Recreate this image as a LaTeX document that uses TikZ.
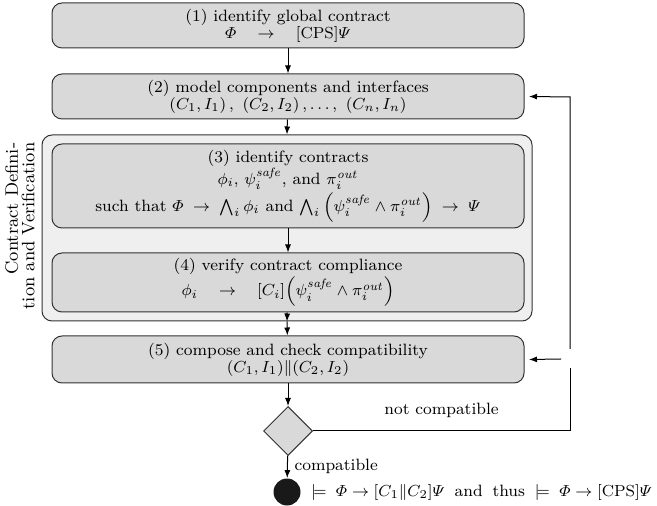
\documentclass[tikz,border=0pt]{standalone}
\usepackage{amsmath,amssymb}
\usetikzlibrary{arrows.meta,shapes.geometric}
\DeclareMathSizes{8.2}{8.2}{6.4}{5}
\definecolor{boxfill}{HTML}{D9D9D9}
\definecolor{grpfill}{HTML}{EFEFEF}
\definecolor{edge}{HTML}{333333}
\begin{document}
\begin{tikzpicture}[x=0.5pt,y=-0.5pt,
  font=\fontsize{8.2}{8.4}\selectfont,
  stepbox/.style={draw=edge, fill=boxfill, rounded corners=5pt, line width=0.5pt,
    minimum width=236pt, align=center, inner sep=0pt},
  grpbox/.style={draw=edge, fill=grpfill, rounded corners=5pt, line width=0.5pt,
    minimum width=245pt, minimum height=93pt, inner sep=0pt},
  conn/.style={draw=black, line width=0.5pt, -{Latex[length=4pt,width=3pt]}},
  plain/.style={draw=black, line width=0.5pt}]
\useasboundingbox (0,0) rectangle (657,506);

\node[grpbox] (g) at (287,228) {};
\node[stepbox, minimum height=22.5pt] (b1) at (288,25.5)
  {(1) identify global contract\\ $\varPhi\quad\rightarrow\quad[\mathrm{CPS}]\varPsi$};
\node[stepbox, minimum height=22.5pt] (b2) at (288,96.5)
  {(2) model components and interfaces\\ $(C_1,I_1)\,,\ (C_2,I_2)\,,\ldots,\ (C_n,I_n)$};
\node[stepbox, minimum height=42pt] (b3) at (288,186)
  {(3) identify contracts\\
   $\phi_i,\,\psi_i^{\mathit{safe}}$, and $\pi_i^{\mathit{out}}$\\[0.5pt]
   such that $\varPhi\;\rightarrow\;\bigwedge_i\phi_i$ and $\bigwedge_i\,\Bigl(\psi_i^{\mathit{safe}}\wedge\pi_i^{\mathit{out}}\Bigr)\;\rightarrow\;\varPsi$};
\node[stepbox, minimum height=29.5pt] (b4) at (288,282.5)
  {(4) verify contract compliance\\
   $\phi_i\quad\rightarrow\quad[C_i]\Bigl(\psi_i^{\mathit{safe}}\wedge\pi_i^{\mathit{out}}\Bigr)$};
\node[stepbox, minimum height=23.5pt] (b5) at (288,359.5)
  {(5) compose and check compatibility\\ $(C_1,I_1)\|(C_2,I_2)$};
\node[rotate=90, align=right, font=\fontsize{9}{8.2}\selectfont] (lbl) at (20,226)
  {Contract Defini-\\tion and Verification};

\node[diamond, aspect=1, draw=edge, fill=boxfill, line width=0.5pt, minimum size=24.5pt, inner sep=0pt] (d) at (288,431) {};
\node[circle, fill=black!90, minimum size=13.5pt, inner sep=0pt] (end) at (287,492) {};
\node[anchor=west, inner sep=1pt] (res) at (309,492)
  {$\models\;\varPhi\rightarrow[C_1\|C_2]\varPsi$\hspace{2pt} and\hspace{2pt} thus\hspace{2pt} $\models\;\varPhi\rightarrow[\mathrm{CPS}]\varPsi$};

\draw[conn] (b1) -- (b2);
\draw[conn] (b2) -- (g.north);
\draw[conn] (b3) -- (b4);
\draw[conn] (b4) -- (g.south);
\draw[conn] (g.south) -- (b5);
\draw[conn] (b5) -- (d);
\draw[conn] (d) -- node[right, xshift=0pt] (lc) {compatible} (end);

\coordinate (c1) at (570,431);
\coordinate (c2) at (570,368);
\coordinate (c3) at (570,349);
\coordinate (c4) at (570,97);
\coordinate (c5) at (561,359);
\draw[plain] (d.east) -- node[above, yshift=3pt] (lnc) {not compatible} (c1) -- (c2);
\draw[conn] (c3) -- (c4) -- (b2.east -| 529,0);
\draw[conn] (c5) -- (b5.east -| 529,0);
\end{tikzpicture}
\end{document}
